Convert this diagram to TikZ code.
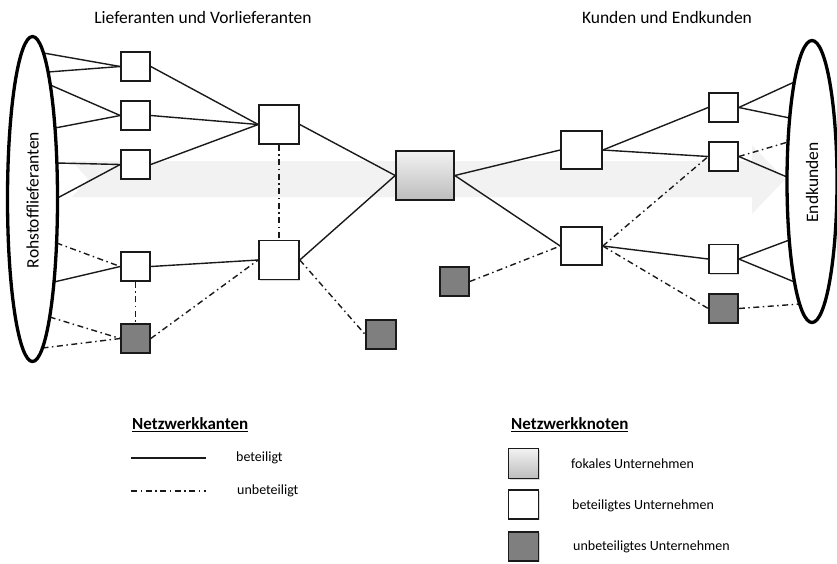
\documentclass[tikz,border=0pt]{standalone}
\usepackage{fontspec}
\setmainfont{Carlito}
\usetikzlibrary{shadows,shapes.geometric}
\definecolor{flowgray}{HTML}{F2F2F2}
\definecolor{idlegray}{HTML}{7F7F7F}
\definecolor{ink}{HTML}{1A1A1A}
\begin{document}
\begin{tikzpicture}[x=1pt,y=-1pt,
  firm/.style={draw=ink,line width=1.6pt,fill=white,inner sep=0pt,
    drop shadow={shadow xshift=1.2pt,shadow yshift=-1.2pt,opacity=0.3}},
  small/.style={firm,minimum width=29pt,minimum height=29pt},
  mid/.style={firm,minimum width=40pt,minimum height=39pt},
  idle/.style={fill=idlegray},
  focal/.style={top color=white!95!black,bottom color=white!74!black},
  link/.style={draw=ink,line width=1.4pt},
  idlelink/.style={link,dash pattern=on 6pt off 3.5pt on 1.5pt off 3.5pt},
  border/.style={draw=black,line width=3.3pt,ellipse,fill=white,inner sep=0pt},
  head/.style={font=\fontsize{17.5}{21}\selectfont,inner sep=0pt},
  lbl/.style={font=\fontsize{14}{16}\selectfont,inner sep=0pt,anchor=west},
  lhead/.style={font=\bfseries\fontsize{17}{20}\selectfont,inner sep=0pt,anchor=west}]
\useasboundingbox (0,0) rectangle (837,563);

% flow direction arrow in the background
\fill[flowgray] (72,161) -- (752,161) -- (752,145) -- (785,179.5) -- (752,214)
  -- (752,197) -- (72,197) -- (88,179) -- cycle;

% headings
\node[head] (hl) at (203,17) {Lieferanten und Vorlieferanten};
\node[head] (hr) at (667,17) {Kunden und Endkunden};

% points on the supplier ellipse
\coordinate (p1) at (43.5,53);
\coordinate (p2) at (48.1,72);
\coordinate (p3) at (50.3,85);
\coordinate (p4) at (55.0,128);
\coordinate (p5) at (56.9,163);
\coordinate (p6) at (57.5,198);
\coordinate (p7) at (56.6,243);
\coordinate (p8) at (54.0,282);
\coordinate (p9) at (49.7,317);
\coordinate (p10) at (42.5,348);
% points on the customer ellipse
\coordinate (q1) at (794.3,82);
\coordinate (q2) at (789.7,118);
\coordinate (q3) at (788,142);
\coordinate (q4) at (787,177);
\coordinate (q5) at (789.3,240);
\coordinate (q6) at (794.5,282);
\coordinate (q7) at (799.6,304);

% companies
\node[small] (L1) at (135.5,66.5) {};
\node[small] (L2) at (135.5,115.5) {};
\node[small] (L3) at (135.5,164.5) {};
\node[small] (L4) at (135.5,266.5) {};
\node[small,idle] (LG) at (135.5,338.5) {};
\node[mid] (M1) at (279,124.5) {};
\node[mid] (M2) at (279,260) {};
\node[small,idle,minimum width=30pt] (MG) at (381,334.5) {};
\node[firm,focal,minimum width=58pt,minimum height=49pt] (F) at (425,175.5) {};
\node[mid,minimum width=41pt,minimum height=38pt] (A) at (581.5,150) {};
\node[mid,minimum width=41pt,minimum height=38pt] (B) at (581.5,246) {};
\node[small,idle] (C) at (454.5,281.5) {};
\node[small] (R1) at (723.5,107.5) {};
\node[small] (R2) at (723.5,156.5) {};
\node[small] (R3) at (723.5,259) {};
\node[small,idle] (RG) at (723.5,308.5) {};

% supplier side links
\draw[link] (p1) -- (L1.west);
\draw[link] (p2) -- (L1.west);
\draw[link] (p3) -- (L2.west);
\draw[link] (p4) -- (L2.west);
\draw[link] (p5) -- (L3.west);
\draw[link] (p6) -- (L3.west);
\draw[idlelink] (p7) -- (L4.west);
\draw[link] (p8) -- (L4.west);
\draw[idlelink] (p9) -- (LG.west);
\draw[idlelink] (p10) -- (LG.west);
\draw[idlelink] (L4.south) -- (LG.north);
\draw[link] (L1.east) -- (M1.west);
\draw[link] (L2.east) -- (M1.west);
\draw[link] (L3.east) -- (M1.west);
\draw[link] (L4.east) -- (M2.west);
\draw[idlelink] (LG.east) -- (M2.west);
\draw[idlelink] (M1.south) -- (M2.north);
\draw[idlelink] (M2.east) -- (MG.west);
\draw[link] (M1.east) -- (F.west);
\draw[link] (M2.east) -- (F.west);

% customer side links
\draw[link] (F.east) -- (A.west);
\draw[link] (F.east) -- (B.west);
\draw[idlelink] (C.east) -- (B.west);
\draw[link] (A.east) -- (R1.west);
\draw[link] (A.east) -- (R2.west);
\draw[idlelink] (B.east) -- (R2.west);
\draw[link] (B.east) -- (R3.west);
\draw[idlelink] (B.east) -- (RG.west);
\draw[link] (R1.east) -- (q1);
\draw[link] (R1.east) -- (q2);
\draw[idlelink] (R2.east) -- (q3);
\draw[link] (R2.east) -- (q4);
\draw[link] (R3.east) -- (q5);
\draw[link] (R3.east) -- (q6);
\draw[idlelink] (RG.east) -- (q7);

% raw material suppliers and end customers
\node[border,minimum width=50pt,minimum height=325pt] (src) at (32.5,199) {};
\node[rotate=90,head] (srct) at (32.5,200) {Rohstofflieferanten};
\node[border,minimum width=50pt,minimum height=282pt] (snk) at (812,181.5) {};
\node[rotate=90,head] (snkt) at (812,182.5) {Endkunden};

% legend: edges
\node[lhead] (kh) at (132,425) {\underline{Netzwerkkanten}};
\coordinate (s1) at (131,458);
\coordinate (s2) at (206,458);
\coordinate (d1) at (131,491);
\coordinate (d2) at (206,491);
\draw[link] (s1) -- (s2);
\draw[idlelink] (d1) -- (d2);
\node[lbl] (kt1) at (236,458) {beteiligt};
\node[lbl] (kt2) at (237,491) {unbeteiligt};

% legend: nodes
\node[lhead] (nh) at (511,425) {\underline{Netzwerkknoten}};
\node[firm,focal,minimum width=30pt,minimum height=30pt] (lf) at (523.5,463.5) {};
\node[small,minimum width=30pt] (lw) at (523.5,504.5) {};
\node[small,idle,minimum width=30pt] (lg) at (523.5,546.5) {};
\node[lbl] (nt1) at (571,464) {fokales Unternehmen};
\node[lbl] (nt2) at (572,506) {beteiligtes Unternehmen};
\node[lbl] (nt3) at (573,547) {unbeteiligtes Unternehmen};
\end{tikzpicture}
\end{document}
